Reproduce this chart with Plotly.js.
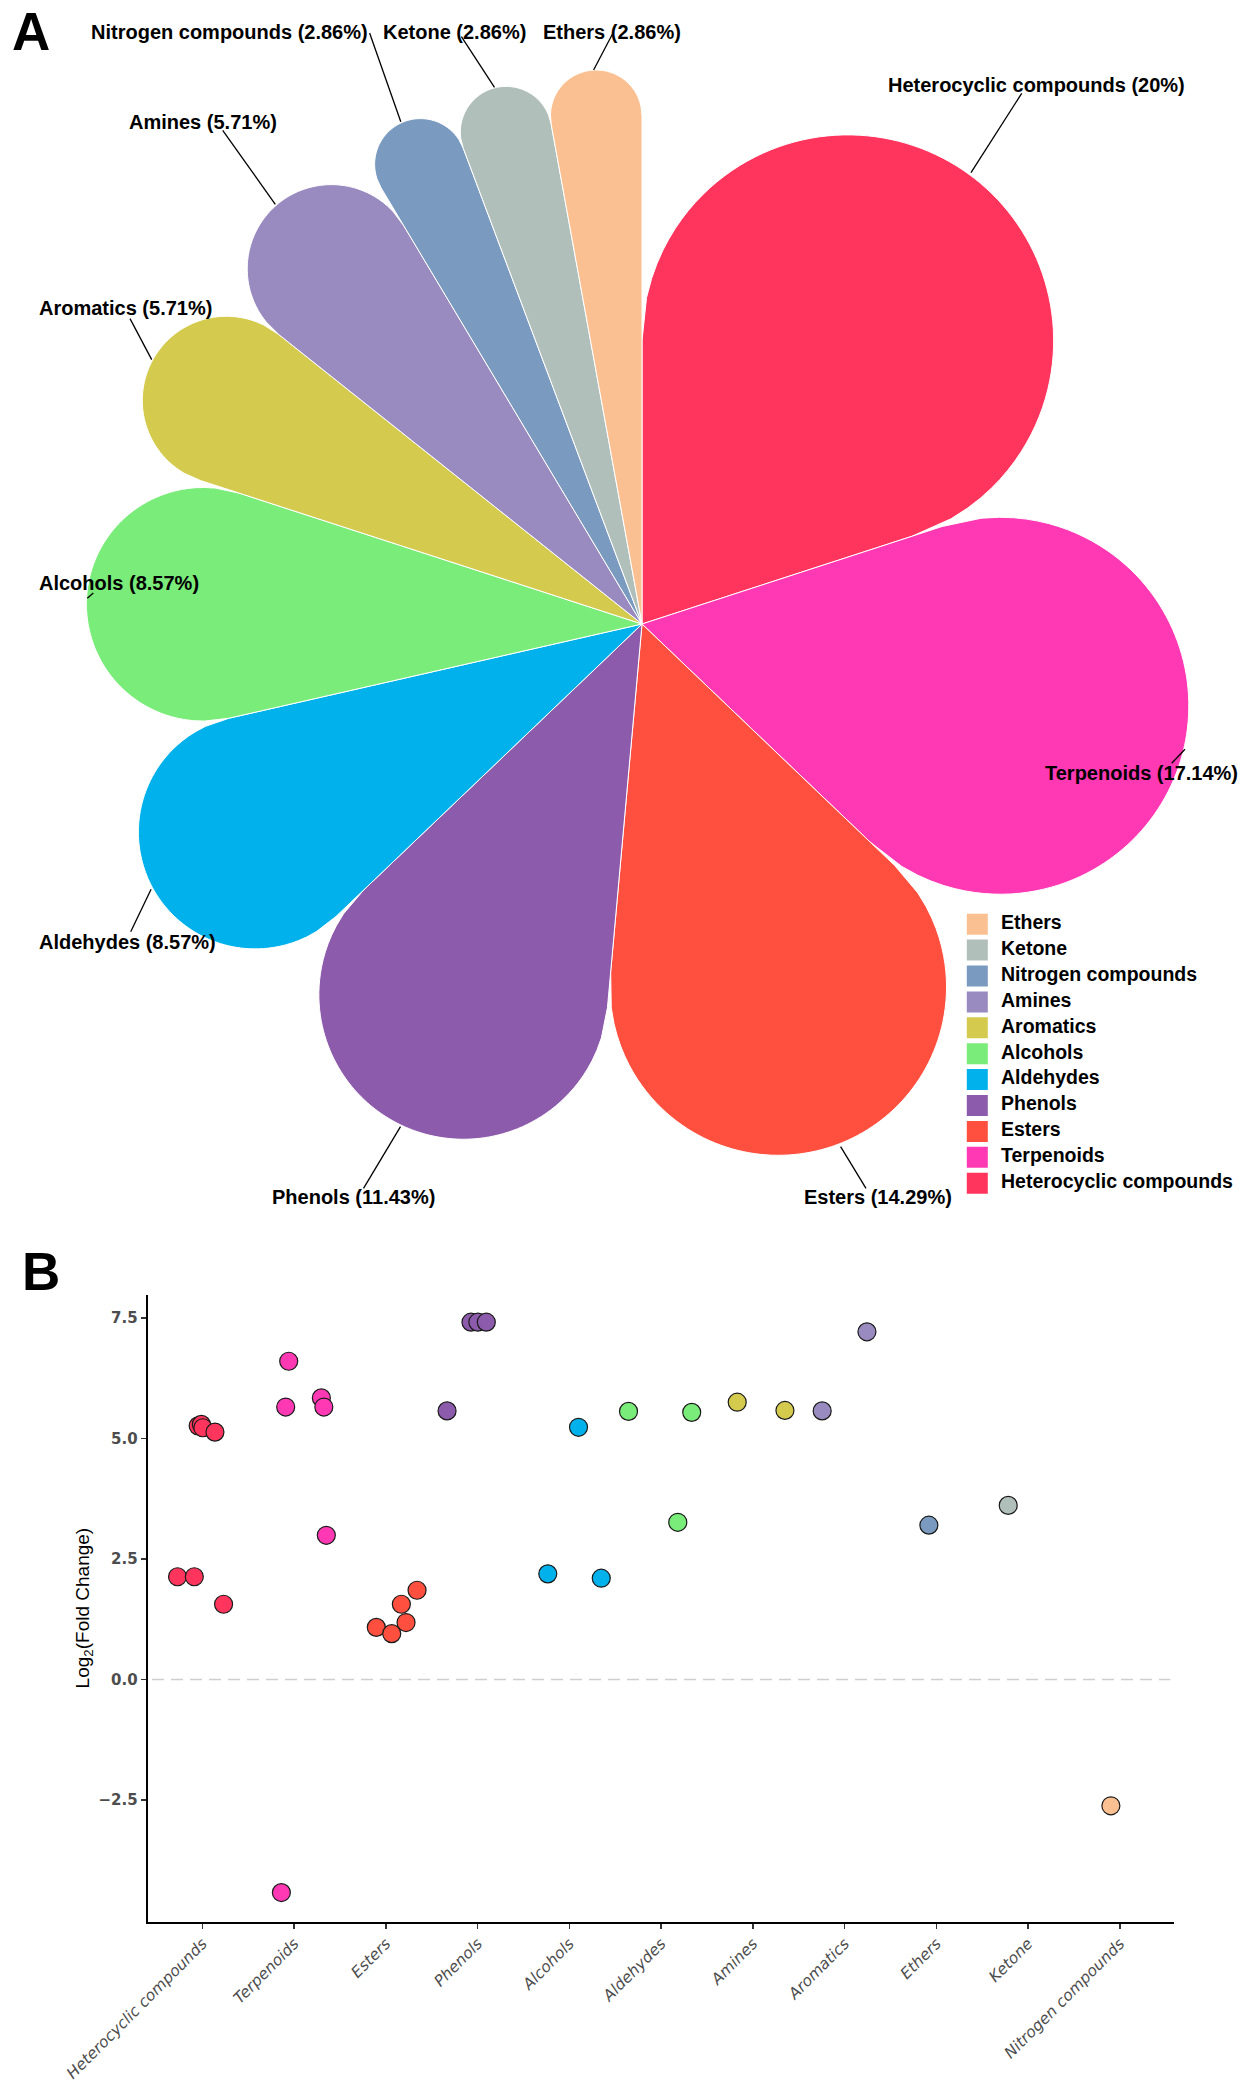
<!DOCTYPE html>
<html><head><meta charset="utf-8">
<script src="https://cdn.plot.ly/plotly-3.0.1.min.js"></script>
<style>html,body{margin:0;padding:0;background:#fff}</style>
</head><body><div id="chart" style="width:1250px;height:2089px"></div>
<script>
// ---------- DATA ----------
// Panel A categories (legend order) and their share of compounds (%)
const legendCategories = ['Ethers','Ketone','Nitrogen compounds','Amines','Aromatics','Alcohols','Aldehydes','Phenols','Esters','Terpenoids','Heterocyclic compounds'];
const categoryColors   = ['#FAC091','#B1BFBB','#7B9ABF','#998AC0','#D4CB4E','#7AEC7A','#00B1EB','#8D5BAB','#FF503F','#FF39B4','#FF355E'];
const piePercent       = [2.86, 2.86, 2.86, 5.71, 5.71, 8.57, 8.57, 11.43, 14.29, 17.14, 20];

// Panel B x-axis categories (tick labels)
const scatterCategories = ['Heterocyclic compounds','Terpenoids','Esters','Phenols','Alcohols','Aldehydes','Amines','Aromatics','Ethers','Ketone','Nitrogen compounds'];

// Panel B points: x category, colour group, horizontal jitter, log2 fold change
const pointCategory = [
 'Heterocyclic compounds','Heterocyclic compounds','Heterocyclic compounds','Heterocyclic compounds','Heterocyclic compounds','Heterocyclic compounds','Heterocyclic compounds',
 'Terpenoids','Terpenoids','Terpenoids','Terpenoids','Terpenoids','Terpenoids',
 'Esters','Esters','Esters','Esters','Esters',
 'Phenols','Phenols','Phenols','Phenols',
 'Alcohols','Alcohols','Alcohols',
 'Aldehydes','Aldehydes','Aldehydes',
 'Amines','Amines',
 'Aromatics','Aromatics',
 'Ethers','Ketone','Nitrogen compounds'];
const pointColorGroup = [
 'Heterocyclic compounds','Heterocyclic compounds','Heterocyclic compounds','Heterocyclic compounds','Heterocyclic compounds','Heterocyclic compounds','Heterocyclic compounds',
 'Terpenoids','Terpenoids','Terpenoids','Terpenoids','Terpenoids','Terpenoids',
 'Esters','Esters','Esters','Esters','Esters',
 'Phenols','Phenols','Phenols','Phenols',
 'Aldehydes','Aldehydes','Aldehydes',
 'Alcohols','Alcohols','Alcohols',
 'Aromatics','Aromatics',
 'Amines','Amines',
 'Nitrogen compounds','Ketone','Ethers'];
const pointJitter = [
 -0.047,-0.012,0.004,0.136,-0.272,-0.089,0.23,
 -0.06,-0.093,0.296,0.323,0.35,-0.14,
 -0.105,0.063,0.219,0.168,0.339,
 -0.334,-0.073,0.002,0.094,
 -0.236,0.099,0.347,
 -0.356,0.181,0.333,
 -0.171,0.349,
 -0.245,0.243,
 -0.082,-0.217,-0.098];
const pointLog2FC = [
 5.26,5.29,5.22,5.13,2.13,2.13,1.56,
 6.60,5.65,5.84,5.65,2.99,-4.42,
 1.08,0.95,1.18,1.56,1.85,
 5.57,7.41,7.41,7.41,
 2.19,5.23,2.10,
 5.56,3.26,5.54,
 5.75,5.58,
 5.57,7.21,
 3.20,3.61,-2.62];
const yTickValues = [-2.5, 0, 2.5, 5, 7.5];

// ---------- LAYOUT HELPERS (positions, not data) ----------
const W = 1250, H = 2089;
const px = x => x / W;
const py = y => 1 - y / H;
const FONT = 'Liberation Sans, Arial, Helvetica, sans-serif';

// label centres and leader lines (pixel positions), keyed by category
const labelGeom = {
  'Nitrogen compounds':     {c:[229.5,31.7],  l:[369.6,33,400.8,121.7]},
  'Ketone':                 {c:[454.5,31.7],  l:[461.4,36.7,494.5,87.3]},
  'Ethers':                 {c:[611.8,31.7],  l:[613,33,593.6,70]},
  'Heterocyclic compounds': {c:[1036.3,85],   l:[1021.7,93.3,971,172.7]},
  'Amines':                 {c:[203,122.1],   l:[222.7,130.4,275.3,204.3]},
  'Aromatics':              {c:[125.8,308.2], l:[130,318.6,151.7,359.6]},
  'Alcohols':               {c:[119.2,583.2], l:[93.3,592.9,87.3,598.2]},
  'Terpenoids':             {c:[1141.3,773.3],l:[1171.7,763.3,1185,749.3]},
  'Aldehydes':              {c:[127.6,941.7], l:[130.7,931.7,151.1,889.3]},
  'Phenols':                {c:[353.3,1196.7],l:[363.5,1188.3,400.5,1126.7]},
  'Esters':                 {c:[878.2,1196.7],l:[866,1188.3,840.6,1146.7]}
};

const colorOf = name => categoryColors[legendCategories.indexOf(name)];

// ---------- PANEL A: petal chart in polar coords ----------
const traces = [];
const pieOrder = legendCategories.slice().reverse(); // clockwise from top
const pieVals = piePercent.slice().reverse();
const total = pieVals.reduce((a,b)=>a+b,0);
let start = 0;
pieOrder.forEach((name, i) => {
  const w = pieVals[i] / total * 360;
  const c = start + w/2;
  const a = (w/2) * Math.PI/180;
  const d = 1 / (1 + Math.sin(a));
  const R = d * Math.sin(a);
  const r = [0], th = [c];
  const N = 90;
  for (let k = 0; k <= N; k++) {
    const phi = -a + 2*a*k/N;
    const v = d*Math.cos(phi) + Math.sqrt(Math.max(0, R*R - d*d*Math.sin(phi)*Math.sin(phi)));
    r.push(v); th.push(c + phi*180/Math.PI);
  }
  r.push(0); th.push(c);
  traces.push({
    type:'scatterpolar', mode:'lines', r:r, theta:th, fill:'toself',
    fillcolor: colorOf(name), line:{color:'#ffffff', width:1},
    name:name, showlegend:false, hoverinfo:'name', subplot:'polar'
  });
  start += w;
});

// ---------- PANEL A legend (drawn as a small hidden cartesian subplot) ----------
traces.push({
  type:'scatter', mode:'markers', xaxis:'x3', yaxis:'y3',
  x: legendCategories.map(()=>0), y: legendCategories.map((_,i)=>i),
  marker:{symbol:'square', size:21, color:categoryColors, line:{width:0}},
  showlegend:false, hoverinfo:'skip'
});
traces.push({
  type:'scatter', mode:'text', xaxis:'x3', yaxis:'y3',
  x: legendCategories.map(()=>23.7), y: legendCategories.map((_,i)=>i),
  text: legendCategories, textposition:'middle right',
  textfont:{family:FONT, size:19.5, color:'#000', weight:'bold'},
  showlegend:false, hoverinfo:'skip'
});

// ---------- PANEL B: jittered scatter ----------
traces.push({
  type:'scatter', mode:'markers', xaxis:'x', yaxis:'y',
  x: pointCategory.map((c,i)=> scatterCategories.indexOf(c) + 1 + pointJitter[i]),
  y: pointLog2FC,
  marker:{size:18, color: pointColorGroup.map(colorOf), line:{color:'#1a1a1a', width:1.2}},
  text: pointCategory, hoverinfo:'text+y', showlegend:false
});

// ---------- annotations & shapes ----------
const annotations = [];
const shapes = [];
legendCategories.forEach((name, i) => {
  const g = labelGeom[name];
  annotations.push({
    xref:'paper', yref:'paper', x:px(g.c[0]), y:py(g.c[1]), xanchor:'center', yanchor:'middle',
    text: name + ' (' + piePercent[i] + '%)', showarrow:false,
    font:{family:FONT, size:20, color:'#000', weight:'bold'}
  });
  shapes.push({type:'line', xref:'paper', yref:'paper',
    x0:px(g.l[0]), y0:py(g.l[1]), x1:px(g.l[2]), y1:py(g.l[3]),
    line:{color:'#000', width:1.3}});
});
annotations.push({xref:'paper', yref:'paper', x:px(10), y:py(31), xanchor:'left', yanchor:'middle',
  text:'A', showarrow:false, font:{family:FONT, size:53, color:'#000', weight:'bold'}});
annotations.push({xref:'paper', yref:'paper', x:px(20), y:py(1271), xanchor:'left', yanchor:'middle',
  text:'B', showarrow:false, font:{family:FONT, size:53, color:'#000', weight:'bold'}});

shapes.push({type:'line', xref:'x', yref:'y', x0:0.45, x1:11.55, y0:0, y1:0, layer:'below',
  line:{color:'#cfcfcf', width:1.6, dash:'12px,7px'}});

const layout = {
  width:W, height:H, margin:{l:0,r:0,t:0,b:0}, paper_bgcolor:'#fff', plot_bgcolor:'rgba(0,0,0,0)',
  showlegend:false,
  polar:{
    domain:{x:[px(642-556), px(642+556)], y:[py(624+556), py(624-556)]},
    bgcolor:'rgba(0,0,0,0)',
    radialaxis:{range:[0,1], showline:false, showgrid:false, showticklabels:false, ticks:''},
    angularaxis:{rotation:90, direction:'clockwise', showline:false, showgrid:false, showticklabels:false, ticks:''}
  },
  xaxis:{
    domain:[px(147.7), px(1174)], range:[0.403, 11.59],
    tickvals: scatterCategories.map((_,i)=>i+1), ticktext: scatterCategories,
    tickangle:-45, tickfont:{family:'DejaVu Sans, sans-serif', size:15.5, color:'#4d4d4d', style:'italic'},
    showline:true, linecolor:'#000', linewidth:2, ticks:'outside', ticklen:5, tickwidth:1.5, tickcolor:'#333',
    showgrid:false, zeroline:false, automargin:false, fixedrange:true
  },
  yaxis:{
    domain:[py(1921.5), py(1294.7)], range:[-5.02, 7.98],
    tickvals: yTickValues, tickformat:'.1f',
    tickfont:{family:'DejaVu Sans, sans-serif', size:15, color:'#4d4d4d', weight:'bold'},
    showline:true, linecolor:'#000', linewidth:2, ticks:'outside', ticklen:5, tickwidth:1.5, tickcolor:'#333',
    showgrid:false, zeroline:false, automargin:false, fixedrange:true,
    title:{text:'Log<sub>2</sub>(Fold Change)', font:{family:FONT, size:19, color:'#000'}, standoff:4}
  },
  xaxis3:{domain:[0.76,1.0], range:[-27.3,272.7], visible:false, fixedrange:true},
  yaxis3:{domain:[py(911.25+284.9), py(911.25)], range:[10.5,-0.5], visible:false, fixedrange:true},
  annotations: annotations,
  shapes: shapes
};

Plotly.newPlot('chart', traces, layout, {staticPlot:true, displayModeBar:false});
</script>
</body></html>
